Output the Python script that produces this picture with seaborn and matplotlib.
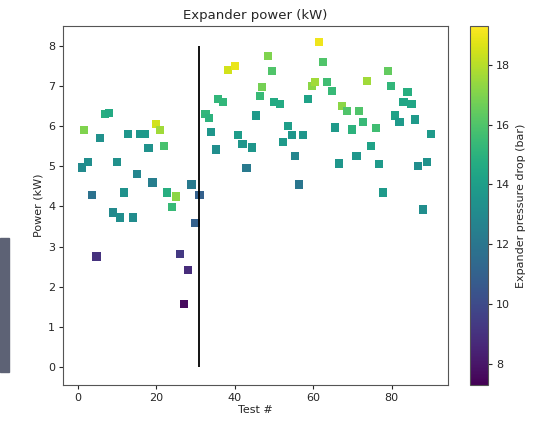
import numpy as np
import pandas as pd
import matplotlib
matplotlib.use("Agg")
import matplotlib.pyplot as plt
import seaborn as sns

# Test number, expander power (kW) and pressure drop (bar)
test = [1, 1.5, 2.6, 3.6, 4.8, 5.6, 7, 8, 9, 10, 10.7, 11.7, 12.8, 14, 15, 16, 17,
        18, 19, 20, 21, 22, 22.7, 24, 25, 26, 27, 28, 29, 30, 31,
        32.5, 33.5, 34, 35.2, 35.7, 37, 38.3, 40, 40.8, 42, 43, 44.4, 45.4, 46.4,
        47, 48.5, 49.5, 50, 51.5, 52.3, 53.6, 54.6, 55.4, 56.4, 57.4, 58.7,
        59.7, 60.5, 61.5, 62.5, 63.5, 64.8, 65.5, 66.6, 67.3, 68.6, 69.9, 71,
        71.7, 72.7, 73.7, 74.7, 76, 76.8, 77.8, 79, 79.8, 80.9, 82, 83, 84, 85,
        86, 86.7, 88, 89, 90]
power = [4.97, 5.9, 5.1, 4.28, 2.75, 5.7, 6.3, 6.33, 3.85, 5.1, 3.72, 4.35, 5.8,
         3.72, 4.8, 5.8, 5.8, 5.45, 4.6, 6.05, 5.9, 5.5, 4.35, 3.98, 4.25, 2.82,
         1.57, 2.42, 4.55, 3.58, 4.28,
         6.3, 6.2, 5.85, 5.42, 6.67, 6.6, 7.4, 7.5, 5.78, 5.55, 4.95, 5.47, 6.27,
         6.75, 6.97, 7.75, 7.37, 6.6, 6.55, 5.6, 6.0, 5.78, 5.25, 4.55, 5.78, 6.67,
         7.0, 7.1, 8.1, 7.6, 7.1, 6.87, 5.97, 5.07, 6.5, 6.37, 5.92, 5.25,
         6.37, 6.1, 7.12, 5.5, 5.95, 5.05, 4.35, 7.37, 7.0, 6.27, 6.1, 6.6, 6.85, 6.55,
         6.17, 5.0, 3.92, 5.1, 5.8]
dp = [13.0, 17.0, 13.2, 11.8, 9.0, 13.3, 14.8, 14.6, 13.0, 13.3, 13.2, 13.4, 13.6,
      13.1, 12.8, 13.6, 13.8, 13.4, 12.4, 18.5, 17.6, 15.8, 14.8, 15.4, 17.2, 9.3,
      7.6, 8.8, 12.2, 11.0, 11.0,
      15.2, 15.0, 13.6, 13.2, 15.2, 15.2, 18.5, 18.9, 13.9, 13.6, 12.2, 13.6, 13.8,
      15.4, 16.8, 17.0, 16.0, 14.6, 14.6, 13.8, 14.0, 13.6, 12.8, 12.0, 13.6, 14.2,
      17.2, 17.6, 19.0, 16.0, 15.6, 15.4, 13.8, 13.6, 17.2, 16.0, 15.0, 13.6,
      16.0, 15.4, 17.6, 14.2, 15.6, 13.8, 13.8, 16.4, 15.2, 14.2, 13.8, 14.4, 14.8, 14.4,
      13.8, 13.2, 13.2, 13.4, 13.8]

df = pd.DataFrame({"test": test, "power": power, "dp": dp})

vmin, vmax = 7.3, 19.3

fig = plt.figure(figsize=(5.33, 4.24), dpi=100)
sns.set_style("ticks")
ax = fig.add_axes([0.118, 0.092, 0.723, 0.847])
cax = fig.add_axes([0.882, 0.092, 0.034, 0.847])

sns.scatterplot(data=df, x="test", y="power", hue="dp", palette="viridis",
                hue_norm=(vmin, vmax), marker="s", s=36, linewidth=0,
                legend=False, ax=ax)
ax.vlines(31, 0, 8, color="black", lw=1.3)

ax.set_xlim(-3.8, 94.4)
ax.set_ylim(-0.45, 8.5)
ax.set_xticks([0, 20, 40, 60, 80])
ax.set_yticks(range(0, 9))
ax.set_title("Expander power (kW)", fontsize=9.5, pad=5)
ax.set_xlabel("Test #", fontsize=8, labelpad=2)
ax.set_ylabel("Power (kW)", fontsize=8, labelpad=3)
ax.tick_params(labelsize=8, length=3, pad=2.5)
for sp in ax.spines.values():
    sp.set_color("#555555")

sm = plt.cm.ScalarMappable(cmap="viridis", norm=plt.Normalize(vmin, vmax))
cb = fig.colorbar(sm, cax=cax)
cb.set_ticks([8, 10, 12, 14, 16, 18])
cb.set_label("Expander pressure drop (bar)", fontsize=8, labelpad=4)
cb.ax.tick_params(labelsize=8, length=3, pad=2.5)
cb.outline.set_edgecolor("#555555")

# grey strip at the left edge of the screenshot
fig.patches.append(plt.Rectangle((0, 0.123), 0.016, 0.316, transform=fig.transFigure,
                                 color="#5d6275", zorder=0))

fig.savefig("out.png", dpi=100)
